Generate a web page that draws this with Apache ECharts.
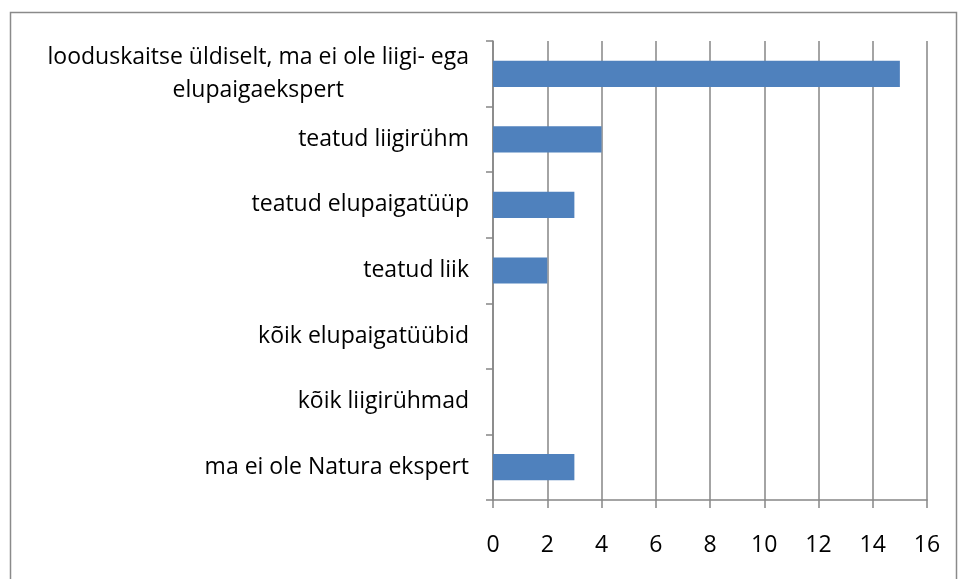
<!DOCTYPE html>
<html><head><meta charset="utf-8">
<script src="https://cdn.jsdelivr.net/npm/echarts@6/dist/echarts.min.js"></script>
<style>html,body{margin:0;padding:0;background:#fff}#c{width:960px;height:579px}</style>
</head><body><div id="c"></div>
<script>
const categories = [
  "ma ei ole Natura ekspert",
  "kõik liigirühmad",
  "kõik elupaigatüübid",
  "teatud liik",
  "teatud elupaigatüüp",
  "teatud liigirühm",
  "looduskaitse üldiselt, ma ei ole liigi- ega\nelupaigaekspert"
];
const values = [3, 0, 0, 2, 3, 4, 15];
const xTicks = [0, 2, 4, 6, 8, 10, 12, 14, 16];

const font = "'Open Sans', 'Noto Sans', sans-serif";
const fs = 23;
const chart = echarts.init(document.getElementById('c'));
chart.setOption({
  animation: false,
  backgroundColor: '#fff',
  graphic: [{
    type: 'rect', shape: {x: 10.5, y: 12.5, width: 946, height: 600},
    style: {fill: 'none', stroke: '#8a8a8a', lineWidth: 1.5}, silent: true
  }],
  grid: {left: 493, right: 33, top: 41, bottom: 79},
  xAxis: {
    type: 'value', min: xTicks[0], max: xTicks[xTicks.length - 1], interval: 2,
    axisLine: {show: true, lineStyle: {color: '#868686', width: 1.5}},
    axisTick: {show: true, length: 8, lineStyle: {color: '#868686', width: 1.5}},
    splitLine: {show: true, lineStyle: {color: '#868686', width: 1.5}},
    axisLabel: {color: '#000', fontSize: fs, fontFamily: font, margin: 34}
  },
  yAxis: {
    type: 'category', data: categories,
    axisLine: {show: true, lineStyle: {color: '#868686', width: 1.5}},
    axisTick: {show: true, length: 7, lineStyle: {color: '#868686', width: 1.5}},
    axisLabel: {
      color: '#000', fontSize: fs, fontFamily: font, margin: 24, lineHeight: 33,
      formatter: function (v) {
        return v.split('\n').map(s => '{c|' + s + '}').join('\n');
      },
      rich: {c: {align: 'center', fontSize: fs, fontFamily: font, color: '#000', lineHeight: 33}}
    }
  },
  series: [{
    type: 'bar', data: values, barWidth: '40%',
    itemStyle: {color: '#4f81bd'}
  }]
});
</script></body></html>
